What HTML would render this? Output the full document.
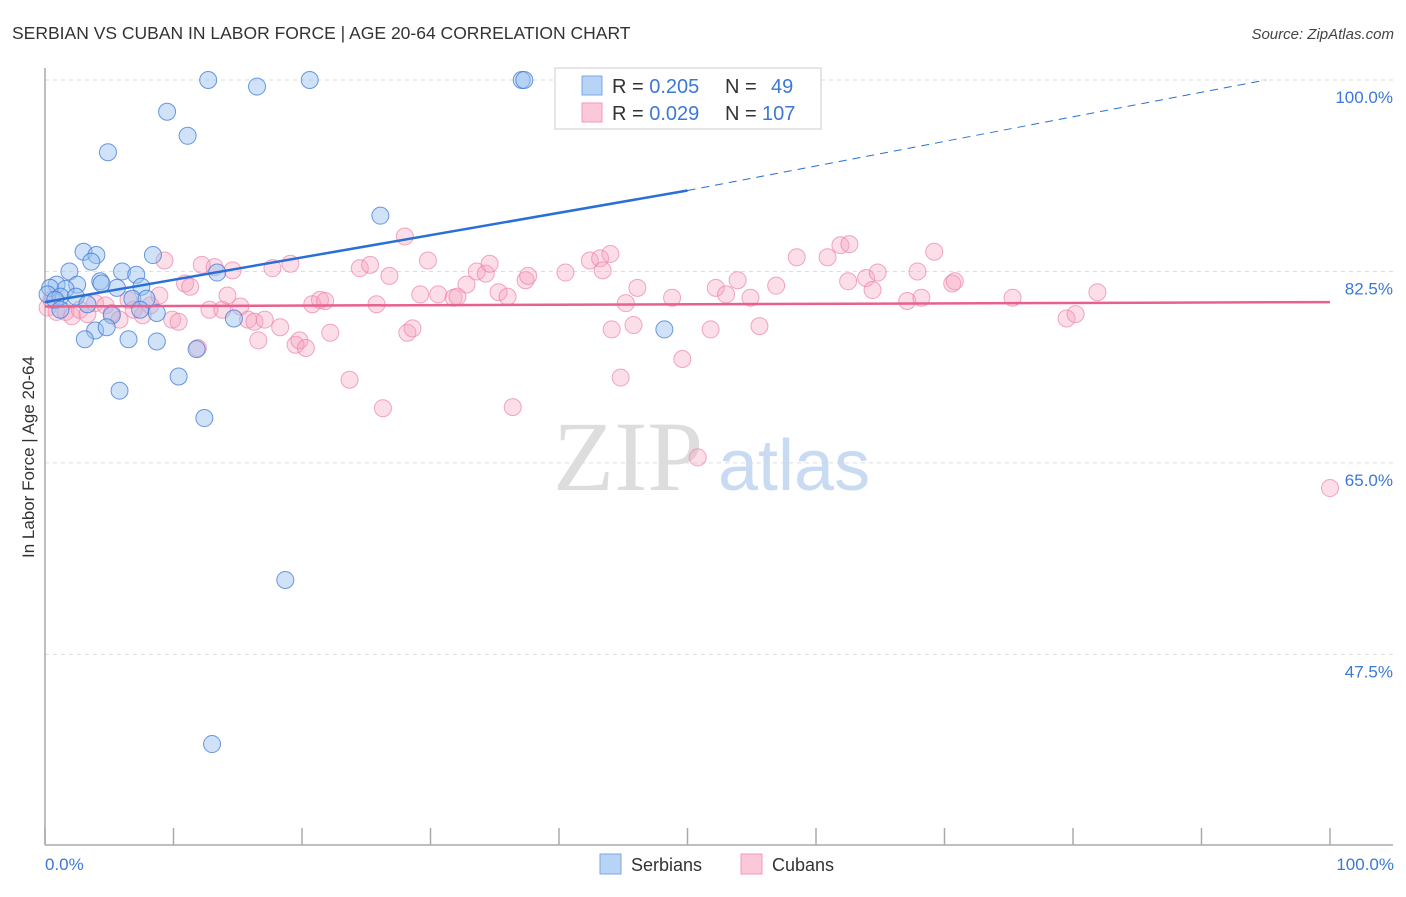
<!DOCTYPE html>
<html><head><meta charset="utf-8"><style>
body{margin:0;background:#fff;width:1406px;height:892px;overflow:hidden;font-family:"Liberation Sans",sans-serif}
</style></head><body>
<svg id="chart" width="1406" height="892" xmlns="http://www.w3.org/2000/svg" font-family="Liberation Sans, sans-serif">
<text x="12" y="39" font-size="17.5" fill="#333">SERBIAN VS CUBAN IN LABOR FORCE | AGE 20-64 CORRELATION CHART</text>
<text x="1394" y="39" font-size="15" fill="#444" text-anchor="end" font-style="italic">Source: ZipAtlas.com</text>
<g id="grid"></g>
<text x="553" y="490" font-size="100" font-family="Liberation Serif, serif" fill="#ddd">ZIP</text>
<text x="718" y="490" font-size="72" fill="#c9dbf2">atlas</text>
<line x1="45" y1="68" x2="45" y2="845" stroke="#aaa" stroke-width="1.5"/>
<line x1="45" y1="845" x2="1393" y2="845" stroke="#aaa" stroke-width="1.5"/>
<g id="ticks"></g>
<text transform="translate(34,457) rotate(-90)" font-size="17" fill="#333" text-anchor="middle">In Labor Force | Age 20-64</text>
<text x="45" y="870" font-size="17" fill="#3b78d8">0.0%</text>
<text x="1394" y="870" font-size="17" fill="#3b78d8" text-anchor="end">100.0%</text>
<g id="pink"></g>
<g id="blue"></g>
<g id="trends"></g>
<g>
<rect x="555" y="68" width="266" height="61" fill="#fff" stroke="#ccc"/>
<rect x="582" y="76" width="20" height="19" fill="#b7d3f5" stroke="#7aa7e3"/>
<rect x="582" y="103" width="20" height="19" fill="#fbc8d9" stroke="#f09ab8"/>
<text x="612" y="93" font-size="20" fill="#333">R = <tspan fill="#3b78d8">0.205</tspan></text>
<text x="725" y="93" font-size="20" fill="#333">N =</text>
<text x="771" y="93" font-size="20" fill="#3b78d8">49</text>
<text x="612" y="120" font-size="20" fill="#333">R = <tspan fill="#3b78d8">0.029</tspan></text>
<text x="725" y="120" font-size="20" fill="#333">N =</text>
<text x="762" y="120" font-size="20" fill="#3b78d8">107</text>
</g>
<g>
<rect x="600" y="854" width="21" height="20" fill="#b7d3f5" stroke="#7aa7e3"/>
<text x="631" y="871" font-size="18" fill="#333">Serbians</text>
<rect x="741" y="854" width="21" height="20" fill="#fbc8d9" stroke="#f09ab8"/>
<text x="772" y="871" font-size="18" fill="#333">Cubans</text>
</g>
</svg>
<script>
const yTicks=[100,82.5,65,47.5];
const yTickLabels=["100.0%","82.5%","65.0%","47.5%"];
const serbX=[12.7,16.5,20.6,37.1,37.3,9.5,11.1,4.9,26.1,3.0,4.0,8.4,3.6,1.9,6.0,7.1,13.4,4.3,0.9,0.4,2.5,1.6,0.2,5.6,7.5,4.4,1.2,2.4,6.8,7.9,3.3,8.7,5.2,14.7,3.9,4.8,48.2,3.1,6.5,8.7,11.8,10.4,5.8,12.4,18.7,13.0,0.8,1.2,7.4];
const serbY=[100,99.4,100,100,100,97.1,94.9,93.4,87.6,84.3,84.0,84.0,83.4,82.5,82.5,82.2,82.4,81.6,81.3,81.0,81.3,80.9,80.4,81.0,81.1,81.4,80.2,80.2,80.0,80.0,79.5,78.7,78.5,78.2,77.1,77.4,77.2,76.3,76.3,76.1,75.4,72.9,71.6,69.1,54.3,39.3,79.9,79.0,79.0];
const cubX=[0.2,0.5,0.9,1.6,2.1,2.7,3.3,3.9,4.7,5.2,5.8,6.5,6.9,7.6,8.2,8.9,9.3,9.9,10.4,10.9,11.3,11.9,12.2,12.8,13.2,13.8,14.2,14.6,15.2,15.8,16.3,16.6,17.1,17.7,18.3,19.1,19.5,19.8,20.3,20.8,21.4,21.8,22.2,23.7,24.5,25.3,25.8,26.3,26.8,28.0,28.2,28.6,29.2,29.8,30.6,31.8,32.1,32.8,33.6,34.3,34.6,35.3,36.0,36.4,37.4,37.6,40.5,42.4,43.2,43.4,44.0,44.1,44.8,45.2,45.8,46.1,48.8,49.6,50.8,51.8,52.2,53.0,53.9,54.9,55.6,56.9,58.5,60.9,61.9,62.6,62.5,63.9,64.4,64.8,67.1,67.9,68.2,69.2,70.6,70.8,75.3,79.5,80.2,81.9,100];
const cubY=[79.2,79.9,78.8,78.8,78.4,79.0,78.6,79.6,79.4,78.7,78.1,79.9,79.0,78.5,79.4,80.3,83.5,78.1,77.9,81.4,81.1,75.5,83.1,79.0,82.9,79.0,80.3,82.6,79.3,78.1,77.9,76.2,78.1,82.8,77.4,83.2,75.8,76.2,75.5,79.5,79.9,79.8,76.9,72.6,82.8,83.1,79.5,70.0,82.1,85.7,76.9,77.3,80.4,83.5,80.4,80.1,80.2,81.3,82.5,82.3,83.2,80.6,80.2,70.1,81.7,82.1,82.4,83.5,83.7,82.6,84.1,77.2,72.8,79.6,77.6,81.0,80.1,74.5,65.5,77.2,81.0,80.4,81.7,80.1,77.5,81.2,83.8,83.8,84.9,85.0,81.6,81.9,80.8,82.4,79.8,82.5,80.1,84.3,81.4,81.6,80.1,78.2,78.6,80.6,62.7];
const serbTrend=[[0,79.7],[50,89.9],[95,100]];
const cubTrend=[[0,79.3],[100,79.7]];
const X=v=>45+v*12.85, Y=v=>80+(100-v)*10.94;
const NS='http://www.w3.org/2000/svg';
function mk(t,a,p){const e=document.createElementNS(NS,t);for(const k in a)e.setAttribute(k,a[k]);p.appendChild(e);return e;}
const grid=document.getElementById('grid');
yTicks.forEach((v,i)=>{
 const l=mk('line',{x1:45,x2:1393,y1:Y(v),y2:Y(v),stroke:'#ddd','stroke-dasharray':'4,4'},grid);
 
 
 const t=mk('text',{x:1393,y:Y(v)+23,'font-size':17,fill:'#3b78d8','text-anchor':'end'},grid);
 t.textContent=yTickLabels[i];
 
 
});
const ticks=document.getElementById('ticks');
for(let i=0;i<=10;i++){const l=mk('line',{x1:X(i*10),x2:X(i*10),y1:828,y2:845,stroke:'#aaa','stroke-width':1.5},ticks);
 
 }
const pink=document.getElementById('pink');
cubX.forEach((x,i)=>{const c=mk('circle',{cx:X(x),cy:Y(cubY[i]),r:8.5,fill:'rgba(245,160,190,0.35)',stroke:'rgba(236,130,170,0.7)','stroke-width':1},pink);
 
 });
const blue=document.getElementById('blue');
serbX.forEach((x,i)=>{const c=mk('circle',{cx:X(x),cy:Y(serbY[i]),r:8.5,fill:'rgba(150,190,240,0.45)',stroke:'rgba(60,120,215,0.75)','stroke-width':1},blue);
 
 });
const tr=document.getElementById('trends');
const s1=mk('line',{x1:X(serbTrend[0][0]),y1:Y(serbTrend[0][1]),x2:X(serbTrend[1][0]),y2:Y(serbTrend[1][1]),stroke:'#2a6fd6','stroke-width':2.5},tr);


const s2=mk('line',{x1:X(serbTrend[1][0]),y1:Y(serbTrend[1][1]),x2:X(serbTrend[2][0]),y2:Y(serbTrend[2][1]),stroke:'#2a6fd6','stroke-width':1,'stroke-dasharray':'8,6'},tr);


const c1=mk('line',{x1:X(cubTrend[0][0]),y1:Y(cubTrend[0][1]),x2:X(cubTrend[1][0]),y2:Y(cubTrend[1][1]),stroke:'#e8608e','stroke-width':2.5},tr);


</script>
</body></html>
